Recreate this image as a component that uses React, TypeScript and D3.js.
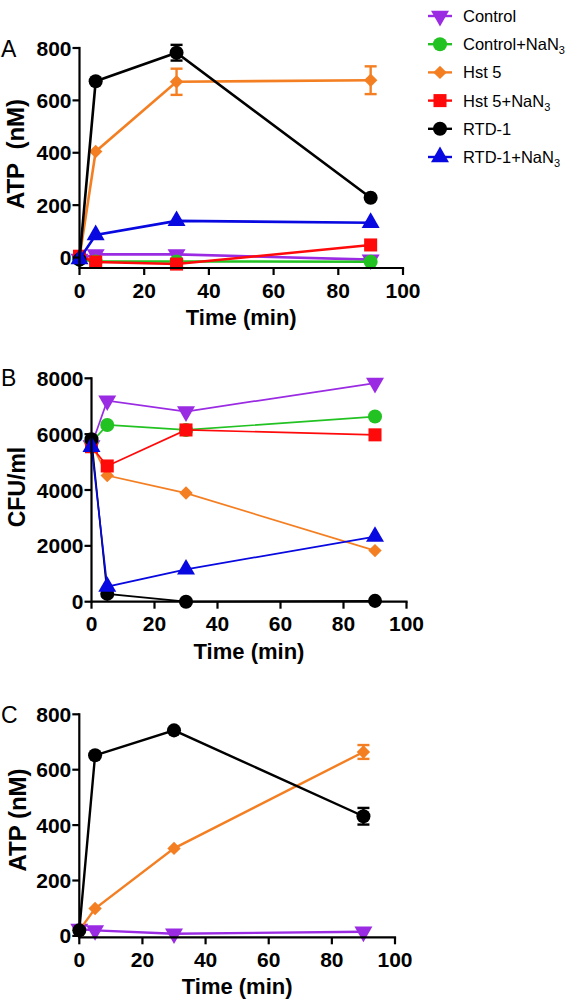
import React from "react";
import * as d3 from "d3";

// ---------- data ----------
const TIME = [0, 5, 30, 90];
const X_TICKS = [0, 20, 40, 60, 80, 100];

const SERIES = ["Control", "Control+NaN3", "Hst 5", "Hst 5+NaN3", "RTD-1", "RTD-1+NaN3"];
const COLORS = ["#9a2be3", "#22c222", "#f47f22", "#ff0a0a", "#000000", "#0808e0"];
const SHAPES = ["triDown", "circle", "diamond", "square", "circle", "triUp"];

// Panel A: ATP (nM)
const A_CONTROL = [-5, 12, 12, -8];
const A_CONTROL_NAN3 = [-8, -15, -15, -16];
const A_HST5 = [0, 405, 671, 677];
const A_HST5_ERR = [0, 0, 50, 53];
const A_HST5_NAN3 = [5, -17, -25, 48];
const A_RTD1 = [-8, 673, 782, 228];
const A_RTD1_ERR = [0, 0, 30, 0];
const A_RTD1_NAN3 = [-6, 86, 140, 133];
const A_Y_TICKS = [0, 200, 400, 600, 800];

// Panel B: CFU/ml
const B_CONTROL = [5600, 7200, 6810, 7830];
const B_CONTROL_NAN3 = [5700, 6330, 6150, 6630];
const B_HST5 = [5650, 4520, 3890, 1830];
const B_HST5_NAN3 = [5550, 4860, 6150, 5975];
const B_RTD1 = [5820, 280, 0, 30];
const B_RTD1_NAN3 = [5550, 540, 1160, 2330];
const B_Y_TICKS = [0, 2000, 4000, 6000, 8000];

// Panel C: ATP (nM)
const C_CONTROL = [25, 20, 8, 15];
const C_HST5 = [20, 99, 316, 664];
const C_HST5_ERR = [0, 0, 0, 25];
const C_RTD1 = [20, 652, 742, 432];
const C_RTD1_ERR = [0, 0, 0, 30];
const C_Y_TICKS = [0, 200, 400, 600, 800];

type Series = { idx: number; values: number[]; err?: number[] };
type PanelCfg = {
  letter: string;
  yLabel: string;
  x0: number; x1: number;
  yTop: number; yBottom: number;
  yDomain: [number, number];
  yTicks: number[];
  letterY: number;
  labelX: number; labelY: number;
  labelSize: number;
  lineWidth: number;
  series: Series[];
};

const PANELS: PanelCfg[] = [
  {
    letter: "A", yLabel: "ATP\u00a0 (nM)",
    x0: 79.5, x1: 403, yTop: 48, yBottom: 268, yDomain: [-40, 800], yTicks: A_Y_TICKS,
    letterY: 48.5, labelX: 15, labelY: 154, labelSize: 24, lineWidth: 2.6,
    series: [
      { idx: 0, values: A_CONTROL },
      { idx: 1, values: A_CONTROL_NAN3 },
      { idx: 2, values: A_HST5, err: A_HST5_ERR },
      { idx: 3, values: A_HST5_NAN3 },
      { idx: 4, values: A_RTD1, err: A_RTD1_ERR },
      { idx: 5, values: A_RTD1_NAN3 },
    ],
  },
  {
    letter: "B", yLabel: "CFU/ml",
    x0: 91.5, x1: 406.5, yTop: 378.3, yBottom: 601.7, yDomain: [0, 8000], yTicks: B_Y_TICKS,
    letterY: 378, labelX: 17, labelY: 487, labelSize: 23, lineWidth: 1.7,
    series: [
      { idx: 0, values: B_CONTROL },
      { idx: 1, values: B_CONTROL_NAN3 },
      { idx: 2, values: B_HST5 },
      { idx: 3, values: B_HST5_NAN3 },
      { idx: 4, values: B_RTD1 },
      { idx: 5, values: B_RTD1_NAN3 },
    ],
  },
  {
    letter: "C", yLabel: "ATP (nM)",
    x0: 79.3, x1: 395, yTop: 714.3, yBottom: 937.3, yDomain: [-5, 800], yTicks: C_Y_TICKS,
    letterY: 715, labelX: 17, labelY: 820, labelSize: 24, lineWidth: 2.4,
    series: [
      { idx: 0, values: C_CONTROL },
      { idx: 2, values: C_HST5, err: C_HST5_ERR },
      { idx: 4, values: C_RTD1, err: C_RTD1_ERR },
    ],
  },
];

const FONT = "'Liberation Sans', Arial, Helvetica, sans-serif";

function markerPath(shape: string): { d: string; rot: number } {
  switch (shape) {
    case "circle":
      return { d: d3.symbol(d3.symbolCircle, 155)()!, rot: 0 };
    case "square":
      return { d: d3.symbol(d3.symbolSquare, 170)()!, rot: 0 };
    case "diamond":
      return { d: d3.symbol(d3.symbolSquare, 90)()!, rot: 45 };
    case "triUp":
      return { d: d3.symbol(d3.symbolTriangle, 140)()!, rot: 0 };
    case "triDown":
      return { d: d3.symbol(d3.symbolTriangle, 140)()!, rot: 180 };
  }
  return { d: "", rot: 0 };
}

function Marker({ x, y, idx }: { x: number; y: number; idx: number }) {
  const m = markerPath(SHAPES[idx]);
  return (
    <path d={m.d} transform={`translate(${x},${y}) rotate(${m.rot})`} fill={COLORS[idx]} />
  );
}

function SeriesLabel({ name }: { name: string }) {
  if (name.endsWith("NaN3")) {
    return (
      <>
        {name.slice(0, -1)}
        <tspan fontSize={11} dy={4}>3</tspan>
      </>
    );
  }
  return <>{name}</>;
}

function Panel({ cfg }: { cfg: PanelCfg }) {
  const x = d3.scaleLinear().domain([0, 100]).range([cfg.x0, cfg.x1]);
  const y = d3.scaleLinear().domain(cfg.yDomain).range([cfg.yBottom, cfg.yTop]);
  const line = d3
    .line<number>()
    .x((_, i) => x(TIME[i]))
    .y((d) => y(d));
  const tickLen = 7;
  const axisW = 2.2;
  return (
    <g>
      {/* series */}
      {cfg.series.map((s) => (
        <g key={s.idx}>
          <path d={line(s.values) || ""} fill="none" stroke={COLORS[s.idx]} strokeWidth={cfg.lineWidth} />
          {s.err &&
            s.values.map((v, i) =>
              s.err![i] > 0 ? (
                <g key={"e" + i} stroke={COLORS[s.idx]} strokeWidth={2.4}>
                  <line x1={x(TIME[i])} x2={x(TIME[i])} y1={y(v - s.err![i])} y2={y(v + s.err![i])} />
                  <line x1={x(TIME[i]) - 6} x2={x(TIME[i]) + 6} y1={y(v - s.err![i])} y2={y(v - s.err![i])} />
                  <line x1={x(TIME[i]) - 6} x2={x(TIME[i]) + 6} y1={y(v + s.err![i])} y2={y(v + s.err![i])} />
                </g>
              ) : null
            )}
          {s.values.map((v, i) => (
            <Marker key={i} x={x(TIME[i])} y={y(v)} idx={s.idx} />
          ))}
        </g>
      ))}
      {/* axes */}
      <line x1={cfg.x0} x2={cfg.x0} y1={cfg.yBottom + axisW / 2} y2={cfg.yTop - axisW / 2} stroke="#000" strokeWidth={axisW} />
      <line x1={cfg.x0} x2={cfg.x1 + axisW / 2} y1={cfg.yBottom} y2={cfg.yBottom} stroke="#000" strokeWidth={axisW} />
      {cfg.yTicks.map((t) => (
        <g key={"y" + t}>
          <line x1={cfg.x0 - tickLen} x2={cfg.x0} y1={y(t)} y2={y(t)} stroke="#000" strokeWidth={axisW} />
          <text
            x={cfg.x0 - tickLen - 1}
            y={y(t)}
            dy="0.36em"
            textAnchor="end"
            fontFamily={FONT}
            fontWeight="bold"
            fontSize={21}
          >
            {t}
          </text>
        </g>
      ))}
      {X_TICKS.map((t) => (
        <g key={"x" + t}>
          <line x1={x(t)} x2={x(t)} y1={cfg.yBottom} y2={cfg.yBottom + tickLen} stroke="#000" strokeWidth={axisW} />
          <text
            x={x(t)}
            y={cfg.yBottom + 22}
            dy="0.36em"
            textAnchor="middle"
            fontFamily={FONT}
            fontWeight="bold"
            fontSize={21}
          >
            {t}
          </text>
        </g>
      ))}
      <text
        x={(cfg.x0 + cfg.x1) / 2}
        y={cfg.yBottom + 49}
        dy="0.36em"
        textAnchor="middle"
        fontFamily={FONT}
        fontWeight="bold"
        fontSize={22}
      >
        Time (min)
      </text>
      <text
        transform={`translate(${cfg.labelX},${cfg.labelY}) rotate(-90)`}
        dy="0.36em"
        textAnchor="middle"
        fontFamily={FONT}
        fontWeight="bold"
        fontSize={cfg.labelSize}
      >
        {cfg.yLabel}
      </text>
      <text x={1} y={cfg.letterY} dy="0.36em" fontFamily={FONT} fontSize={23}>
        {cfg.letter}
      </text>
    </g>
  );
}

function Legend() {
  const x0 = 440;
  const y0 = 16;
  const step = 28.2;
  return (
    <g>
      {SERIES.map((name, i) => (
        <g key={name}>
          <line x1={x0 - 12} x2={x0 + 12} y1={y0 + i * step} y2={y0 + i * step} stroke={COLORS[i]} strokeWidth={2.4} />
          <Marker x={x0} y={y0 + i * step} idx={i} />
          <text x={463} y={y0 + i * step} dy="0.36em" fontFamily={FONT} fontSize={16.5}>
            <SeriesLabel name={name} />
          </text>
        </g>
      ))}
    </g>
  );
}

export default function App() {
  return (
    <svg
      width={566}
      height={1004}
      viewBox="0 0 566 1004"
      style={{ position: "absolute", left: 0, top: 0, background: "#fff" }}
    >
      <rect x={0} y={0} width={566} height={1004} fill="#fff" />
      {PANELS.map((p) => (
        <Panel key={p.letter} cfg={p} />
      ))}
      <Legend />
    </svg>
  );
}
